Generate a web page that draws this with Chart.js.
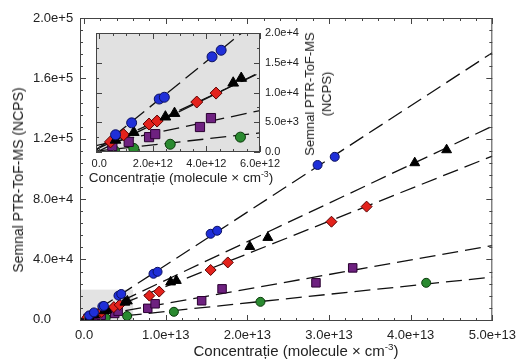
<!DOCTYPE html>
<html lang="ro">
<head>
    <meta charset="UTF-8">
    <title>Semnal PTR-ToF-MS vs concentratie</title>
    <script src="https://cdn.jsdelivr.net/npm/chart.js"></script>
    <style>
        body {
            margin: 0;
            background: #fff;
            font-family: "Liberation Sans", Arial, sans-serif;
        }
        #wrap {
            position: relative;
            width: 523px;
            height: 362px;
        }
        #wrap canvas {
            position: absolute;
            left: 0;
            top: 0;
        }
        .axis-title {
            position: absolute;
            color: #222;
            white-space: nowrap;
            line-height: 1;
            transform: translate(-50%, -50%);
        }
        .axis-title sup {
            font-size: 0.65em;
            vertical-align: 0.6em;
        }
        .rot {
            transform: translate(-50%, -50%) rotate(-90deg);
            text-align: center;
        }
    </style>
</head>
<body>
    <div id="wrap">
        <canvas id="mainChart" width="523" height="362"></canvas>
        <canvas id="insetChart" width="523" height="362"></canvas>
        <div class="axis-title" style="left:296px; top:350px; font-size:15px;">Concentrație (molecule × cm<sup>-3</sup>)</div>
        <div class="axis-title rot" style="left:18px; top:180px; font-size:14px;">Semnal PTR-ToF-MS (NCPS)</div>
        <div class="axis-title" style="left:181px; top:177px; font-size:13.5px;">Concentrație (molecule × cm<sup>-3</sup>)</div>
        <div class="axis-title rot" style="left:318px; top:94px; font-size:13px; line-height:17px;">Semnal PTR-ToF-MS<br>(NCPS)</div>
    </div>

    <script>
        // measured points (x: molecule/cm3, y: NCPS)
        const blueX = [0.61e12, 1.21e12, 2.24e12, 2.43e12, 4.21e12, 4.55e12, 0.85e13, 0.90e13, 1.55e13, 1.63e13, 2.86e13, 3.07e13];
        const blueY = [2.9e3, 4.9e3, 8.9e3, 9.2e3, 1.6e4, 1.71e4, 3.05e4, 3.18e4, 5.7e4, 5.9e4, 1.026e5, 1.08e5];
        const blackX = [0.61e12, 1.29e12, 2.47e12, 2.81e12, 5.0e12, 5.3e12, 1.06e13, 1.13e13, 2.03e13, 2.25e13, 4.05e13, 4.44e13];
        const blackY = [2.0e3, 3.3e3, 5.9e3, 6.5e3, 1.16e4, 1.24e4, 2.5e4, 2.6e4, 4.85e4, 5.45e4, 1.04e5, 1.126e5];
        const redX = [0.42e12, 0.91e12, 1.86e12, 2.16e12, 3.64e12, 4.36e12, 0.80e13, 0.92e13, 1.55e13, 1.76e13, 3.03e13, 3.46e13];
        const redY = [1.7e3, 2.9e3, 4.7e3, 5.2e3, 8.4e3, 9.9e3, 1.6e4, 1.87e4, 3.3e4, 3.8e4, 6.5e4, 7.5e4];
        const purpleX = [0.49e12, 1.1e12, 1.86e12, 2.09e12, 3.76e12, 4.17e12, 0.78e13, 0.87e13, 1.44e13, 1.69e13, 2.84e13, 3.29e13];
        const purpleY = [1.0e3, 1.7e3, 2.5e3, 3.0e3, 4.2e3, 5.7e3, 7.6e3, 1.06e4, 1.26e4, 2.05e4, 2.45e4, 3.44e4];
        const greenX = [0.57e12, 1.29e12, 2.65e12, 5.27e12, 1.1e13, 2.16e13, 4.19e13];
        const greenY = [0.2e3, 0.6e3, 1.3e3, 2.5e3, 5.3e3, 1.19e4, 2.45e4];

        // linear fits (blue, black, red, purple, green)
        const fitSlopes = [3.52e-9, 2.55e-9, 2.16e-9, 0.96e-9, 0.57e-9];
        const fitIntercepts = [1000, 800, 500, 1200, -200];
        const insetSlopes = [3.63e-9, 2.2e-9, 2.1e-9, 0.96e-9, 0.5e-9];
        const insetIntercepts = [700, 200, 700, 1200, 200];

        // tick labels
        const xTicks = [0, 1e13, 2e13, 3e13, 4e13, 5e13];
        const yTicks = [0, 4e4, 8e4, 1.2e5, 1.6e5, 2e5];
        const insetXTicks = [0, 2e12, 4e12, 6e12];
        const insetYTicks = [0, 5e3, 1e4, 1.5e4, 2e4];

        const fmt = v => v === 0 ? '0.0' : v.toExponential(1);
        const toPoints = (xs, ys) => xs.map((x, i) => ({ x: x, y: ys[i] }));

        const series = [
            { x: blueX, y: blueY, bg: '#1f2fd8', border: '#0b1060', style: 'circle', grow: 0 },
            { x: blackX, y: blackY, bg: '#000000', border: '#000000', style: 'triangle', grow: 1.2 },
            { x: redX, y: redY, bg: '#e3221c', border: '#5a0000', style: 'rectRot', grow: 1 },
            { x: purpleX, y: purpleY, bg: '#6e2180', border: '#2a0030', style: 'rect', grow: 1.5 },
            { x: greenX, y: greenY, bg: '#2a8a30', border: '#0a3a0a', style: 'circle', grow: 0 }
        ];

        // frame on all four sides with inward ticks
        const frameTicks = {
            id: 'frameTicks',
            afterDraw(chart, args, opts) {
                const { ctx, chartArea: a } = chart;
                const xs = chart.scales.x, ys = chart.scales.y;
                ctx.save();
                ctx.strokeStyle = '#444';
                ctx.lineWidth = 1;
                ctx.strokeRect(a.left + 0.5, a.top + 0.5, a.right - a.left - 1, a.bottom - a.top - 1);
                ctx.beginPath();
                for (let k = Math.ceil(xs.min / opts.xMinor); k * opts.xMinor <= xs.max + 1; k++) {
                    const v = k * opts.xMinor;
                    const major = opts.xMajor.some(t => Math.abs(t - v) < opts.xMinor / 10);
                    const len = major ? 6 : 3;
                    const px = Math.round(xs.getPixelForValue(v)) + 0.5;
                    ctx.moveTo(px, a.bottom); ctx.lineTo(px, a.bottom - len);
                    ctx.moveTo(px, a.top); ctx.lineTo(px, a.top + len);
                }
                for (let k = Math.ceil(ys.min / opts.yMinor); k * opts.yMinor <= ys.max + 1; k++) {
                    const v = k * opts.yMinor;
                    const major = opts.yMajor.some(t => Math.abs(t - v) < opts.yMinor / 10);
                    const len = major ? 6 : 3;
                    const py = Math.round(ys.getPixelForValue(v)) + 0.5;
                    ctx.moveTo(a.left, py); ctx.lineTo(a.left + len, py);
                    ctx.moveTo(a.right, py); ctx.lineTo(a.right - len, py);
                }
                ctx.stroke();
                ctx.restore();
            }
        };

        // gray shading: zoomed region on the main plot, background on the inset
        const shade = {
            id: 'shade',
            beforeDatasetsDraw(chart, args, opts) {
                const { ctx, chartArea: a } = chart;
                const xs = chart.scales.x, ys = chart.scales.y;
                const right = opts.xMax != null ? xs.getPixelForValue(opts.xMax) : a.right;
                const top = opts.yMax != null ? ys.getPixelForValue(opts.yMax) : a.top;
                ctx.save();
                ctx.fillStyle = opts.color;
                ctx.fillRect(a.left, top, right - a.left, a.bottom - top);
                ctx.restore();
            }
        };

        function buildDatasets(slopes, intercepts, xMin, xMax, radius) {
            const pts = series.map(s => ({
                type: 'scatter',
                data: toPoints(s.x, s.y),
                backgroundColor: s.bg,
                borderColor: s.border,
                borderWidth: 1,
                pointStyle: s.style,
                pointRadius: radius + s.grow
            }));
            const fits = slopes.map((m, i) => ({
                type: 'line',
                data: [
                    { x: xMin, y: m * xMin + intercepts[i] },
                    { x: xMax, y: m * xMax + intercepts[i] }
                ],
                borderColor: '#111',
                borderWidth: 1.3,
                borderDash: [16, 7],
                pointRadius: 0,
                fill: false
            }));
            return pts.concat(fits);
        }

        const font = { family: '"Liberation Sans", Arial, sans-serif' };

        const mainX = { min: -0.5e12, max: 5e13 };
        const mainY = { min: -800, max: 2e5 };

        new Chart(document.getElementById('mainChart'), {
            type: 'scatter',
            data: { datasets: buildDatasets(fitSlopes, fitIntercepts, mainX.min, mainX.max, 4.5) },
            options: {
                responsive: false,
                animation: false,
                devicePixelRatio: 1,
                layout: { padding: { left: 33, right: 26, top: 18, bottom: 0 } },
                scales: {
                    x: {
                        type: 'linear',
                        min: mainX.min,
                        max: mainX.max,
                        grid: { display: false, drawTicks: false },
                        border: { display: false },
                        afterBuildTicks: s => { s.ticks = xTicks.map(v => ({ value: v })); },
                        afterFit: s => { s.height = 41; },
                        ticks: { callback: fmt, padding: 7, maxRotation: 0, color: '#222', font: { ...font, size: 13 } }
                    },
                    y: {
                        min: mainY.min,
                        max: mainY.max,
                        grid: { display: false, drawTicks: false },
                        border: { display: false },
                        afterBuildTicks: s => { s.ticks = yTicks.map(v => ({ value: v })); },
                        afterFit: s => { s.width = 47; },
                        ticks: { callback: fmt, crossAlign: 'far', color: '#222', font: { ...font, size: 13 } }
                    }
                },
                plugins: {
                    legend: { display: false },
                    tooltip: { enabled: false },
                    shade: { color: '#e3e3e3', xMax: 6e12, yMax: 2e4 },
                    frameTicks: { xMinor: 2e12, yMinor: 8e3, xMajor: xTicks, yMajor: yTicks }
                }
            },
            plugins: [shade, frameTicks]
        });

        const insetX = { min: -0.12e12, max: 6e12 };

        new Chart(document.getElementById('insetChart'), {
            type: 'scatter',
            data: { datasets: buildDatasets(insetSlopes, insetIntercepts, insetX.min, insetX.max, 5) },
            options: {
                responsive: false,
                animation: false,
                devicePixelRatio: 1,
                layout: { padding: { left: 96, right: 223, top: 33, bottom: 194 } },
                scales: {
                    x: {
                        type: 'linear',
                        min: insetX.min,
                        max: insetX.max,
                        grid: { display: false, drawTicks: false },
                        border: { display: false },
                        afterBuildTicks: s => { s.ticks = insetXTicks.map(v => ({ value: v })); },
                        afterFit: s => { s.height = 16; },
                        ticks: { callback: fmt, padding: 5, maxRotation: 0, color: '#222', font: { ...font, size: 11 } }
                    },
                    y: {
                        position: 'right',
                        min: 0,
                        max: 2e4,
                        grid: { display: false, drawTicks: false },
                        border: { display: false },
                        afterBuildTicks: s => { s.ticks = insetYTicks.map(v => ({ value: v })); },
                        afterFit: s => { s.width = 40; },
                        ticks: { callback: fmt, padding: 5, color: '#222', font: { ...font, size: 11 } }
                    }
                },
                plugins: {
                    legend: { display: false },
                    tooltip: { enabled: false },
                    shade: { color: '#e1e1e1' },
                    frameTicks: { xMinor: 0.5e12, yMinor: 2.5e3, xMajor: insetXTicks, yMajor: insetYTicks }
                }
            },
            plugins: [shade, frameTicks]
        });
    </script>
</body>
</html>
